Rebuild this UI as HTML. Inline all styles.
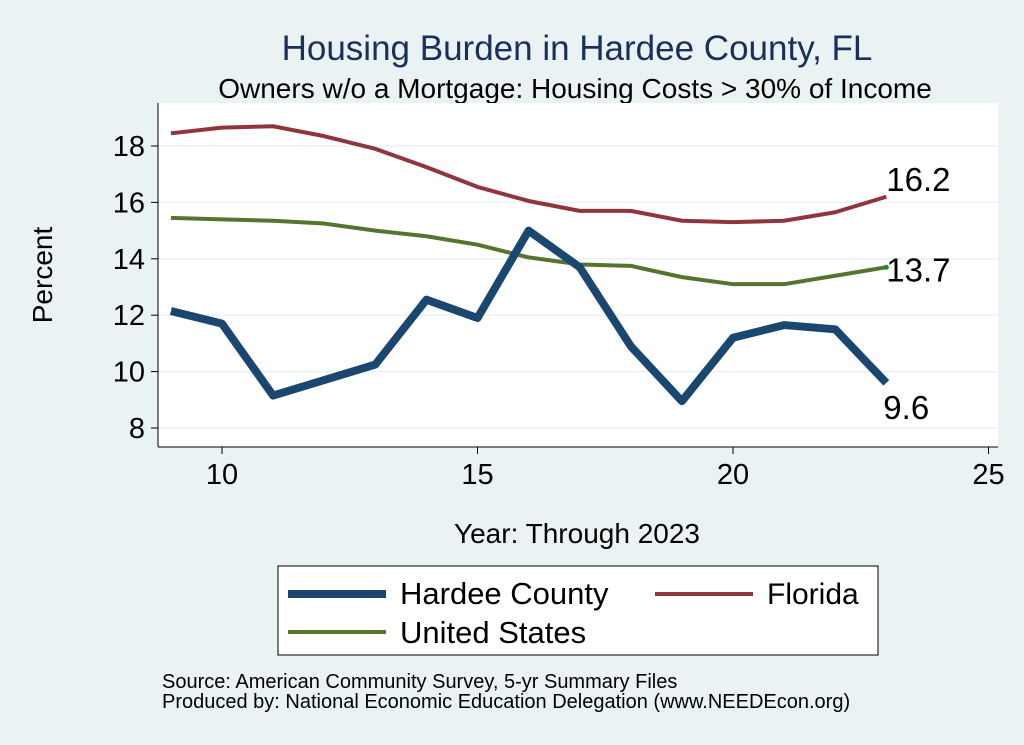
<!DOCTYPE html>
<html><head><meta charset="utf-8"><style>
body{margin:0;background:#eaf2f3;}
svg{display:block;font-family:"Liberation Sans",Arial,sans-serif;}
</style></head><body>
<svg id="chart" width="1024" height="745">
<rect x="0" y="0" width="1024" height="745" fill="#eaf2f3"/>
<text x="577" y="60" font-size="35" fill="#1a2f5a" text-anchor="middle">Housing Burden in Hardee County, FL</text>
<text x="575" y="98" font-size="28" fill="#000" text-anchor="middle">Owners w/o a Mortgage: Housing Costs &gt; 30% of Income</text>
<rect x="158" y="103" width="840" height="344" fill="#fff"/>
<g id="grid"></g>
<g id="axes"></g>
<g id="series"></g>
<text x="52" y="275" font-size="28" text-anchor="middle" transform="rotate(-90 52 275)">Percent</text>
<text x="577" y="543" font-size="28" text-anchor="middle">Year: Through 2023</text>
<g>
<rect x="278" y="566" width="600" height="89" fill="#fff" stroke="#000" stroke-width="1"/>
<line x1="288" y1="594" x2="386" y2="594" stroke="#1a476f" stroke-width="8"/>
<text x="400" y="604" font-size="31">Hardee County</text>
<line x1="655" y1="594" x2="753" y2="594" stroke="#90353b" stroke-width="4"/>
<text x="767" y="604" font-size="30">Florida</text>
<line x1="288" y1="632" x2="386" y2="632" stroke="#55752f" stroke-width="4"/>
<text x="400" y="643" font-size="31">United States</text>
</g>
<text x="162" y="688" font-size="20">Source: American Community Survey, 5-yr Summary Files</text>
<text x="162" y="708" font-size="20">Produced by: National Economic Education Delegation (www.NEEDEcon.org)</text>
</svg>
<script>
const years=[9,10,11,12,13,14,15,16,17,18,19,20,21,22,23];
const hardee=[12.15,11.7,9.15,9.7,10.25,12.55,11.9,15.0,13.7,10.9,8.95,11.2,11.65,11.5,9.6];
const florida=[18.45,18.65,18.7,18.35,17.9,17.25,16.55,16.05,15.7,15.7,15.35,15.3,15.35,15.65,16.2];
const us=[15.45,15.4,15.35,15.25,15.0,14.8,14.5,14.05,13.8,13.75,13.35,13.1,13.1,13.4,13.7];
const xTicks=[10,15,20,25];
const yTicks=[8,10,12,14,16,18];
const NS="http://www.w3.org/2000/svg";
const sx=v=>222+(v-10)*51.1;
const sy=v=>428-(v-8)*28.2;
function mk(tag,attrs,parent){const e=document.createElementNS(NS,tag);for(const k in attrs)e.setAttribute(k,attrs[k]);parent.appendChild(e);return e;}
const grid=document.getElementById('grid'),axes=document.getElementById('axes'),ser=document.getElementById('series');
yTicks.forEach(t=>{
 const g=mk('line',{x1:158,x2:998,y1:sy(t),y2:sy(t),stroke:'#eaf2f3','stroke-width':1.5},grid);
 
 
 const tk=mk('line',{x1:151,x2:158,y1:sy(t),y2:sy(t),stroke:'#000'},axes);
 
 
 const tx=mk('text',{x:145,y:sy(t)+10,'font-size':29,'text-anchor':'end'},axes);tx.textContent=t;
 
 
});
xTicks.forEach(t=>{
 const tk=mk('line',{x1:sx(t),x2:sx(t),y1:447,y2:454,stroke:'#000'},axes);
 
 
 const tx=mk('text',{x:sx(t),y:484,'font-size':29,'text-anchor':'middle'},axes);tx.textContent=t;
 
 
});
const ya=mk('line',{x1:158,x2:158,y1:103,y2:447,stroke:'#000'},axes);


const xa=mk('line',{x1:158,x2:998,y1:447,y2:447,stroke:'#000'},axes);


function line(vals,color,w,name){
 const p=mk('polyline',{points:vals.map((v,i)=>sx(years[i])+','+sy(v)).join(' '),fill:'none',stroke:color,'stroke-width':w,'stroke-linejoin':'round'},ser);
 
 
}
line(florida,'#90353b',4,'florida-line');
line(us,'#55752f',4,'us-line');
line(hardee,'#1a476f',8,'hardee-line');
const n=years.length-1;
[[florida,-6,'florida-end-label'],[us,14,'us-end-label'],[hardee,36,'hardee-end-label']].forEach(([arr,dy,name])=>{
 const t=mk('text',{x:sx(years[n])+(name==='hardee-end-label'?-3:0),y:sy(arr[n])+dy,'font-size':33,fill:'#000'},ser);
 t.textContent=arr[n].toFixed(1);
 
 
});
const dot=mk('circle',{cx:sx(years[n]),cy:sy(us[n]),r:2.5,fill:'#1a8a1a'},ser);


</script>
</body></html>
